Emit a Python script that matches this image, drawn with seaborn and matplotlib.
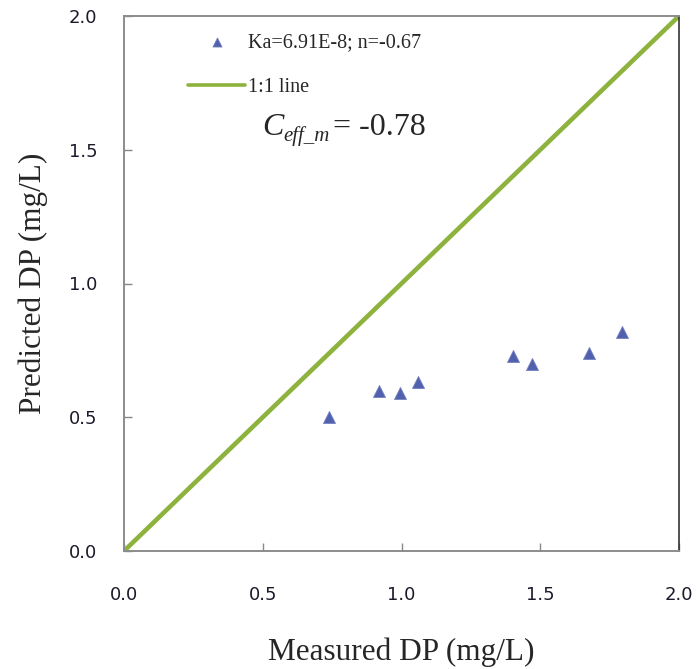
import matplotlib
matplotlib.use("Agg")
import matplotlib.pyplot as plt
import seaborn as sns
import pandas as pd

# measured vs predicted dissolved P (mg/L)
measured = [0.74, 0.92, 0.995, 1.06, 1.40, 1.47, 1.675, 1.795]
predicted = [0.50, 0.60, 0.59, 0.63, 0.73, 0.70, 0.74, 0.82]
one_to_one = [0.0, 2.0]

x_ticks = [0.0, 0.5, 1.0, 1.5, 2.0]
y_ticks = [0.0, 0.5, 1.0, 1.5, 2.0]

point_color = "#5161AD"
line_color = "#8DB33E"
W, H = 696, 669

sns.set_style("white")
plt.rcParams["font.family"] = ["DejaVu Sans"]

fig = plt.figure(figsize=(W / 100, H / 100), dpi=100)
ax = fig.add_axes([124 / W, 1 - 551 / H, 555 / W, 535 / H])

pts = pd.DataFrame({"measured": measured, "predicted": predicted})
line = pd.DataFrame({"x": one_to_one, "y": one_to_one})

sns.scatterplot(data=pts, x="measured", y="predicted", marker="^", s=75,
                color=point_color, edgecolor="#7480C0", linewidth=0.6,
                label="Ka=6.91E-8; n=-0.67", ax=ax, zorder=3)
sns.lineplot(data=line, x="x", y="y", color=line_color, linewidth=3.3,
             label="1:1 line", ax=ax, zorder=2)

ax.set_xlim(0, 2)
ax.set_ylim(0, 2)
ax.set_xticks(x_ticks)
ax.set_yticks(y_ticks)
ax.set_xticklabels([f"{t:.1f}" for t in x_ticks], fontsize=13, color="#1a1a2a")
ax.set_yticklabels([f"{t:.1f}" for t in y_ticks], fontsize=13, color="#1a1a2a")
ax.tick_params(axis="both", direction="in", length=6, width=1, color="#888888",
               bottom=True, left=True)
ax.tick_params(axis="x", pad=25)
ax.tick_params(axis="y", pad=19)

for side in ["left", "bottom", "top"]:
    ax.spines[side].set_color("#8c8c8c")
    ax.spines[side].set_linewidth(1.4)
ax.spines["right"].set_color("#333333")
ax.spines["right"].set_linewidth(1.2)

ax.set_xlabel("Measured DP (mg/L)", fontsize=22.5, family="Liberation Serif",
              labelpad=24)
ax.set_ylabel("Predicted DP (mg/L)", fontsize=22.5, family="Liberation Serif",
              labelpad=15)

leg = ax.legend(loc="upper left", bbox_to_anchor=(188 / W, 1 - 33 / H),
                bbox_transform=fig.transFigure, frameon=False,
                prop={"family": "Liberation Serif", "size": 14.5},
                handlelength=2.85, handletextpad=0.15, labelspacing=1.3,
                borderpad=0, borderaxespad=0, markerscale=0.75)
for h in leg.get_lines():
    h.set_linewidth(2.6)

serif = "Liberation Serif"
fig.text(262 / W, 1 - 135 / H, "C", fontsize=23, family=serif, style="italic",
         va="baseline")
fig.text(283 / W, 1 - 141 / H, "eff_m", fontsize=15, family=serif, style="italic",
         va="baseline")
fig.text(333 / W, 1 - 135 / H, "= -0.78", fontsize=23, family=serif,
         va="baseline")

fig.savefig("out.png", dpi=100)
